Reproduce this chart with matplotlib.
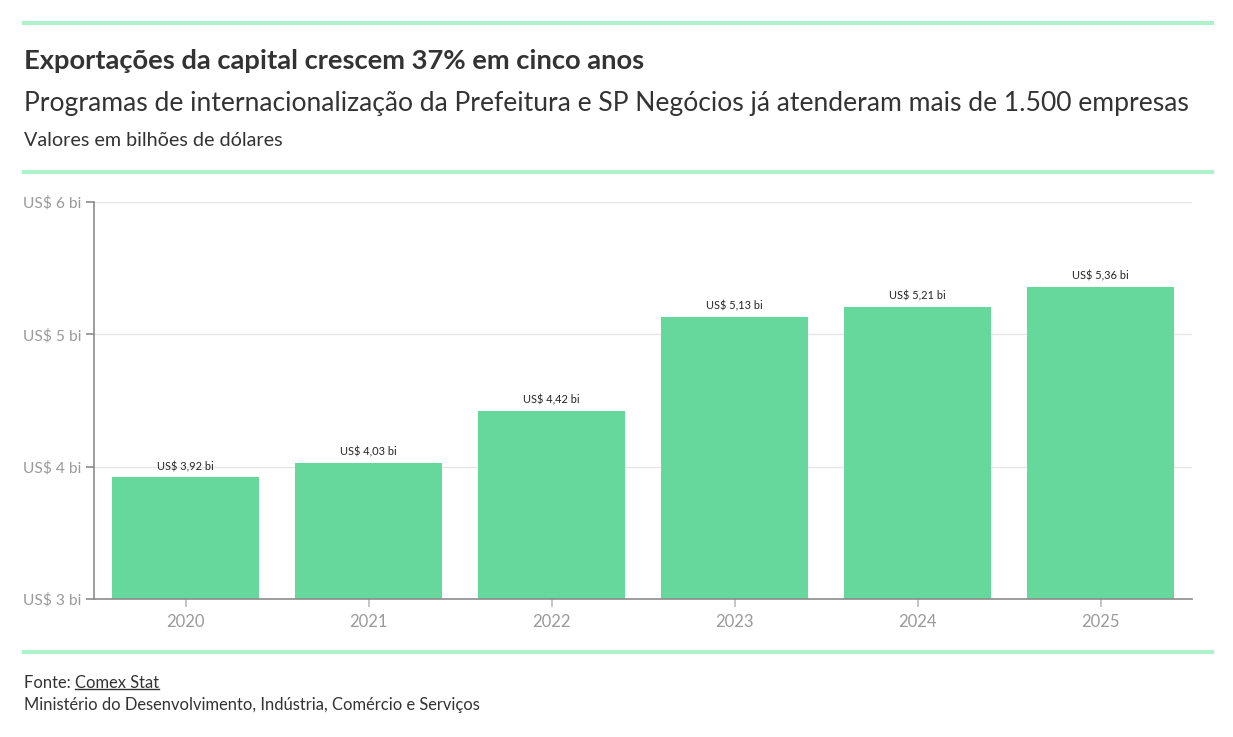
import matplotlib
matplotlib.use("Agg")
import matplotlib.pyplot as plt
from matplotlib.lines import Line2D

# Data
years = ["2020", "2021", "2022", "2023", "2024", "2025"]
values = [3.92, 4.03, 4.42, 5.13, 5.21, 5.36]
value_labels = ["US$ 3,92 bi", "US$ 4,03 bi", "US$ 4,42 bi", "US$ 5,13 bi", "US$ 5,21 bi", "US$ 5,36 bi"]
y_ticks = [3, 4, 5, 6]
y_tick_labels = ["US$ 3 bi", "US$ 4 bi", "US$ 5 bi", "US$ 6 bi"]

title = "Exportações da capital crescem 37% em cinco anos"
subtitle = "Programas de internacionalização da Prefeitura e SP Negócios já atenderam mais de 1.500 empresas"
note = "Valores em bilhões de dólares"

plt.rcParams['font.family'] = ['Lato', 'DejaVu Sans']

W, H = 1233, 737
fig = plt.figure(figsize=(W / 100, H / 100), dpi=100)
fig.patch.set_facecolor("white")

bar_color = "#67d89c"
rule_color = "#aef2cb"
tick_grey = "#9a9a9a"

ax = fig.add_axes([94 / W, 1 - 599 / H, (1192 - 94) / W, (599 - 202) / H])
x = range(len(years))
ax.bar(x, values, width=0.8, color=bar_color, zorder=2, bottom=0)
for xi, v, lab in zip(x, values, value_labels):
    ax.text(xi, v + 0.04, lab, ha="center", va="bottom", fontsize=7.9, color="#222222")

ax.set_xlim(-0.5, len(years) - 0.5)
ax.set_ylim(3, 6)
ax.set_yticks(y_ticks)
ax.set_yticklabels(y_tick_labels)
ax.set_xticks(list(x))
ax.set_xticklabels(years)
ax.grid(axis="y", color="#e6e6e6", linewidth=1, zorder=0)
for s in ["top", "right"]:
    ax.spines[s].set_visible(False)
for s in ["left", "bottom"]:
    ax.spines[s].set_color("#8c8c8c")
    ax.spines[s].set_linewidth(1.2)
ax.tick_params(axis="y", colors="#8c8c8c", labelcolor=tick_grey, labelsize=11.2, length=6, width=1.2, pad=3)
ax.tick_params(axis="x", colors="#bbbbbb", labelcolor=tick_grey, labelsize=12, length=6, width=1.2, pad=5)

# horizontal rules
for yy in [23, 172, 652]:
    fig.add_artist(Line2D([24 / W, 1212 / W], [1 - yy / H, 1 - yy / H], color=rule_color, linewidth=3))

fig.text(24 / W, 1 - 61 / H, title, fontsize=19.7, fontweight="bold", color="#333333", va="center")
fig.text(24 / W, 1 - 103 / H, subtitle, fontsize=19.1, color="#333333", va="center")
fig.text(24 / W, 1 - 141 / H, note, fontsize=14.2, color="#333333", va="center")

t1 = fig.text(24 / W, 1 - 683 / H, "Fonte: ", fontsize=11.9, color="#333333", va="center")
fig.canvas.draw()
r = fig.canvas.get_renderer()
bb = t1.get_window_extent(r)
t2 = fig.text(bb.x1 / W, 1 - 683 / H, "Comex Stat", fontsize=11.9, color="#333333", va="center")
bb2 = t2.get_window_extent(r)
fig.add_artist(Line2D([bb2.x0 / W, bb2.x1 / W], [(bb2.y0 + 2) / H, (bb2.y0 + 2) / H], color="#333333", linewidth=1))
fig.text(24 / W, 1 - 705 / H, "Ministério do Desenvolvimento, Indústria, Comércio e Serviços", fontsize=11.9, color="#333333", va="center")

fig.savefig("out.png", dpi=100, facecolor="white")
